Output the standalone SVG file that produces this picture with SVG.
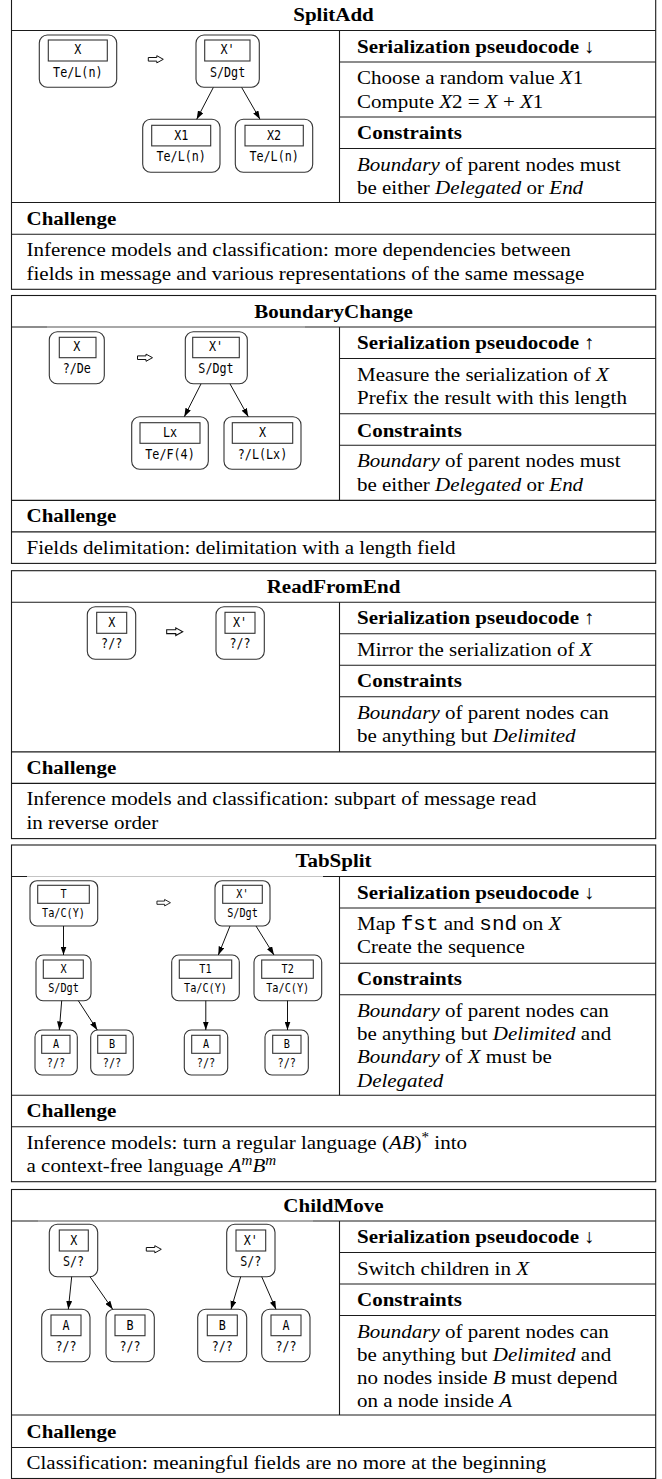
<svg xmlns="http://www.w3.org/2000/svg" xmlns:xlink="http://www.w3.org/1999/xlink" width="662" height="1479" viewBox="0 0 662 1479">
<defs>
<style>
.ln{stroke:#1a1a1a;stroke-width:1.1;fill:none}
.lt{stroke:#c4c4c4;stroke-width:1.2}
.s{font-family:"Liberation Serif","Times New Roman",serif;font-size:19.5px;fill:#000}
.b{font-weight:bold}
.c{text-anchor:middle}
.i{font-style:italic}
.tt{font-family:"Liberation Mono","Courier New",monospace}
.no{fill:#fff;stroke:#333;stroke-width:1.1}
.nb{fill:none;stroke:#333;stroke-width:1.1}
.m{font-family:"DejaVu Sans Mono",monospace;font-size:13.8px;fill:#000;text-anchor:middle}
.m2{font-size:12px}
.e{stroke:#111;stroke-width:1;fill:none;marker-end:url(#ah)}
.imp{fill:none;stroke:#111;stroke-width:1}
</style>
<marker id="ah" viewBox="0 0 10 7" refX="10" refY="3.5" markerWidth="8.5" markerHeight="6" markerUnits="userSpaceOnUse" orient="auto"><path d="M0,0 L10,3.5 L0,7 z" fill="#000"/></marker>
<polygon id="imp" class="imp" points="-7.5,-1.8 1,-1.8 1,-3.6 7.5,0 1,3.6 1,1.8 -7.5,1.8"/>
</defs>
<rect width="662" height="1479" fill="#fff"/>

<!-- ============ SplitAdd ============ -->
<g id="splitadd">
<g id="splitadd-frame">
<rect class="ln" x="11.5" y="-1" width="644.2" height="290.3"/>
<line class="ln" x1="11.5" y1="30.5" x2="655.7" y2="30.5"/>
<line class="ln" x1="339.5" y1="62" x2="655.7" y2="62"/>
<line class="ln" x1="339.5" y1="117" x2="655.7" y2="117"/>
<line class="ln" x1="339.5" y1="148.5" x2="655.7" y2="148.5"/>
<line class="ln" x1="11.5" y1="202.5" x2="655.7" y2="202.5"/>
<line class="ln" x1="11.5" y1="234.3" x2="655.7" y2="234.3"/>
<line class="ln" x1="339.5" y1="30.5" x2="339.5" y2="202.5"/>
</g>
<text class="s b c" transform="translate(333.5,21) scale(1.077,1)">SplitAdd</text>
<text class="s b" transform="translate(357,52.5) scale(1.077,1)">Serialization pseudocode ↓</text>
<text class="s" transform="translate(357,84) scale(1.077,1)">Choose a random value <tspan class="i">X</tspan>1</text>
<text class="s" transform="translate(357,107.5) scale(1.077,1)">Compute <tspan class="i">X</tspan>2 = <tspan class="i">X</tspan> + <tspan class="i">X</tspan>1</text>
<text class="s b" transform="translate(357,139) scale(1.077,1)">Constraints</text>
<text class="s" transform="translate(357,170.5) scale(1.077,1)"><tspan class="i">Boundary</tspan> of parent nodes must</text>
<text class="s" transform="translate(357,194) scale(1.077,1)">be either <tspan class="i">Delegated</tspan> or <tspan class="i">End</tspan></text>
<text class="s b" transform="translate(26.5,224.8) scale(1.077,1)">Challenge</text>
<text class="s" transform="translate(26.5,256.3) scale(1.077,1)">Inference models and classification: more dependencies between</text>
<text class="s" transform="translate(26.5,279.7) scale(1.077,1)">fields in message and various representations of the same message</text>
<use xlink:href="#imp" transform="translate(155.8,59.3)"/>
<g id="splitadd-x"><rect class="no" x="39.3" y="35" width="77.4" height="52.3" rx="8"/><rect class="nb" x="48.3" y="40" width="59" height="21"/><text class="m" transform="translate(77.8,54) scale(0.85,1)">X</text><text class="m" transform="translate(77.8,76.5) scale(0.85,1)">Te/L(n)</text></g>
<g id="splitadd-x-prime"><rect class="no" x="196" y="35" width="63.3" height="52.3" rx="8"/><rect class="nb" x="204.7" y="40" width="45.3" height="21"/><text class="m" transform="translate(227.6,54) scale(0.85,1)">X'</text><text class="m" transform="translate(227.6,76.5) scale(0.85,1)">S/Dgt</text></g>
<g id="splitadd-x1"><rect class="no" x="142.7" y="119.3" width="77.3" height="53" rx="8"/><rect class="nb" x="151.7" y="125.3" width="59" height="20.6"/><text class="m" transform="translate(181.2,139.5) scale(0.85,1)">X1</text><text class="m" transform="translate(181.2,161.3) scale(0.85,1)">Te/L(n)</text></g>
<g id="splitadd-x2"><rect class="no" x="235.3" y="119.3" width="77.4" height="53" rx="8"/><rect class="nb" x="245" y="125.3" width="58.3" height="20.6"/><text class="m" transform="translate(274.1,139.5) scale(0.85,1)">X2</text><text class="m" transform="translate(274.1,161.3) scale(0.85,1)">Te/L(n)</text></g>
<g id="splitadd-edges">
<line class="e" x1="213.3" y1="87.5" x2="196.7" y2="119.3"/>
<line class="e" x1="241.7" y1="87.5" x2="260" y2="119.3"/>
</g>
</g>

<!-- ============ BoundaryChange ============ -->
<g id="boundarychange">
<g id="boundarychange-frame">
<rect class="ln" x="11.5" y="295.5" width="644.2" height="267.9"/>
<line class="ln" x1="11.5" y1="327" x2="655.7" y2="327"/>
<line class="lt" x1="47" y1="327" x2="305" y2="327"/>
<line class="ln" x1="339.5" y1="358.5" x2="655.7" y2="358.5"/>
<line class="ln" x1="339.5" y1="413.7" x2="655.7" y2="413.7"/>
<line class="ln" x1="339.5" y1="445.2" x2="655.7" y2="445.2"/>
<line class="ln" x1="11.5" y1="500.4" x2="655.7" y2="500.4"/>
<line class="ln" x1="11.5" y1="531.9" x2="655.7" y2="531.9"/>
<line class="ln" x1="339.5" y1="327" x2="339.5" y2="500.4"/>
</g>
<text class="s b c" transform="translate(333.5,317.5) scale(1.077,1)">BoundaryChange</text>
<text class="s b" transform="translate(357,349) scale(1.077,1)">Serialization pseudocode ↑</text>
<text class="s" transform="translate(357,380.5) scale(1.077,1)">Measure the serialization of <tspan class="i">X</tspan></text>
<text class="s" transform="translate(357,404) scale(1.077,1)">Prefix the result with this length</text>
<text class="s b" transform="translate(357,436.7) scale(1.077,1)">Constraints</text>
<text class="s" transform="translate(357,467.2) scale(1.077,1)"><tspan class="i">Boundary</tspan> of parent nodes must</text>
<text class="s" transform="translate(357,490.6) scale(1.077,1)">be either <tspan class="i">Delegated</tspan> or <tspan class="i">End</tspan></text>
<text class="s b" transform="translate(26.5,522.4) scale(1.077,1)">Challenge</text>
<text class="s" transform="translate(26.5,553.9) scale(1.077,1)">Fields delimitation: delimitation with a length field</text>
<use xlink:href="#imp" transform="translate(145,357.7)"/>
<g id="boundarychange-x"><rect class="no" x="49.3" y="331.7" width="55" height="52" rx="8"/><rect class="nb" x="59.3" y="337.3" width="36.7" height="20.4"/><text class="m" transform="translate(76.8,351.2) scale(0.85,1)">X</text><text class="m" transform="translate(76.8,373) scale(0.85,1)">?/De</text></g>
<g id="boundarychange-x-prime"><rect class="no" x="185.3" y="331.7" width="62" height="52" rx="8"/><rect class="nb" x="192.7" y="337.3" width="46.6" height="20.4"/><text class="m" transform="translate(216,351.2) scale(0.85,1)">X'</text><text class="m" transform="translate(216,373) scale(0.85,1)">S/Dgt</text></g>
<g id="boundarychange-lx"><rect class="no" x="131.7" y="416.7" width="76.6" height="52.6" rx="8"/><rect class="nb" x="140" y="422.7" width="60" height="20.6"/><text class="m" transform="translate(170,436.7) scale(0.85,1)">Lx</text><text class="m" transform="translate(170,458.6) scale(0.85,1)">Te/F(4)</text></g>
<g id="boundarychange-x-child"><rect class="no" x="224" y="416.7" width="77" height="52.6" rx="8"/><rect class="nb" x="232.3" y="422.7" width="60.4" height="20.6"/><text class="m" transform="translate(262.5,436.7) scale(0.85,1)">X</text><text class="m" transform="translate(262.5,458.6) scale(0.85,1)">?/L(Lx)</text></g>
<g id="boundarychange-edges">
<line class="e" x1="201" y1="383.9" x2="184.3" y2="416.7"/>
<line class="e" x1="230" y1="383.9" x2="248.3" y2="416.7"/>
</g>
</g>

<!-- ============ ReadFromEnd ============ -->
<g id="readfromend">
<g id="readfromend-frame">
<rect class="ln" x="11.5" y="570.7" width="644.2" height="267.9"/>
<line class="ln" x1="11.5" y1="602.2" x2="655.7" y2="602.2"/>
<line class="ln" x1="339.5" y1="633.7" x2="655.7" y2="633.7"/>
<line class="ln" x1="339.5" y1="665.2" x2="655.7" y2="665.2"/>
<line class="ln" x1="339.5" y1="696.7" x2="655.7" y2="696.7"/>
<line class="ln" x1="11.5" y1="751.9" x2="655.7" y2="751.9"/>
<line class="ln" x1="11.5" y1="783.4" x2="655.7" y2="783.4"/>
<line class="ln" x1="339.5" y1="602.2" x2="339.5" y2="751.9"/>
</g>
<text class="s b c" transform="translate(333.5,592.7) scale(1.077,1)">ReadFromEnd</text>
<text class="s b" transform="translate(357,624.2) scale(1.077,1)">Serialization pseudocode ↑</text>
<text class="s" transform="translate(357,655.7) scale(1.077,1)">Mirror the serialization of <tspan class="i">X</tspan></text>
<text class="s b" transform="translate(357,687.2) scale(1.077,1)">Constraints</text>
<text class="s" transform="translate(357,718.7) scale(1.077,1)"><tspan class="i">Boundary</tspan> of parent nodes can</text>
<text class="s" transform="translate(357,742.1) scale(1.077,1)">be anything but <tspan class="i">Delimited</tspan></text>
<text class="s b" transform="translate(26.5,773.9) scale(1.077,1)">Challenge</text>
<text class="s" transform="translate(26.5,805.4) scale(1.077,1)">Inference models and classification: subpart of message read</text>
<text class="s" transform="translate(26.5,828.8) scale(1.077,1)">in reverse order</text>
<use xlink:href="#imp" transform="translate(174.7,631.7) scale(1.07)"/>
<g id="readfromend-x"><rect class="no" x="87.3" y="606.7" width="48.4" height="52.6" rx="8"/><rect class="nb" x="96.7" y="612.3" width="30" height="21"/><text class="m" transform="translate(111.7,627) scale(0.85,1)">X</text><text class="m" transform="translate(111.7,648) scale(0.85,1)">?/?</text></g>
<g id="readfromend-x-prime"><rect class="no" x="216" y="606.7" width="48.3" height="52.6" rx="8"/><rect class="nb" x="225" y="612.3" width="30" height="21"/><text class="m" transform="translate(240,627) scale(0.85,1)">X'</text><text class="m" transform="translate(240,648) scale(0.85,1)">?/?</text></g>
<g id="readfromend-edges"></g>
</g>

<!-- ============ TabSplit ============ -->
<g id="tabsplit">
<g id="tabsplit-frame">
<rect class="ln" x="11.5" y="845" width="644.2" height="336.7"/>
<line class="ln" x1="11.5" y1="876.5" x2="655.7" y2="876.5"/>
<line class="lt" x1="27" y1="876.5" x2="323" y2="876.5"/>
<line class="ln" x1="339.5" y1="908" x2="655.7" y2="908"/>
<line class="ln" x1="339.5" y1="963.2" x2="655.7" y2="963.2"/>
<line class="ln" x1="339.5" y1="994.7" x2="655.7" y2="994.7"/>
<line class="ln" x1="11.5" y1="1095.2" x2="655.7" y2="1095.2"/>
<line class="ln" x1="11.5" y1="1126.7" x2="655.7" y2="1126.7"/>
<line class="ln" x1="339.5" y1="876.5" x2="339.5" y2="1095.2"/>
</g>
<text class="s b c" transform="translate(333.5,867) scale(1.077,1)">TabSplit</text>
<text class="s b" transform="translate(357,898.5) scale(1.077,1)">Serialization pseudocode ↓</text>
<text class="s" transform="translate(357,930) scale(1.077,1)">Map <tspan class="tt">fst</tspan> and <tspan class="tt">snd</tspan> on <tspan class="i">X</tspan></text>
<text class="s" transform="translate(357,953.4) scale(1.077,1)">Create the sequence</text>
<text class="s b" transform="translate(357,985.2) scale(1.077,1)">Constraints</text>
<text class="s" transform="translate(357,1016.7) scale(1.077,1)"><tspan class="i">Boundary</tspan> of parent nodes can</text>
<text class="s" transform="translate(357,1040) scale(1.077,1)">be anything but <tspan class="i">Delimited</tspan> and</text>
<text class="s" transform="translate(357,1063.3) scale(1.077,1)"><tspan class="i">Boundary</tspan> of <tspan class="i">X</tspan> must be</text>
<text class="s" transform="translate(357,1086.6) scale(1.077,1)"><tspan class="i">Delegated</tspan></text>
<text class="s b" transform="translate(26.5,1117.2) scale(1.077,1)">Challenge</text>
<text class="s" transform="translate(26.5,1148.7) scale(1.077,1)">Inference models: turn a regular language (<tspan class="i">AB</tspan>)<tspan dy="-7" style="font-size:14px">*</tspan><tspan dy="7"> into</tspan></text>
<text class="s" transform="translate(26.5,1172.1) scale(1.077,1)">a context-free language <tspan class="i">A</tspan><tspan class="i" dy="-7" style="font-size:14px">m</tspan><tspan class="i" dy="7">B</tspan><tspan class="i" dy="-7" style="font-size:14px">m</tspan></text>
<use xlink:href="#imp" transform="translate(163.7,902.7) scale(0.9)"/>
<g id="tabsplit-t"><rect class="no" x="30" y="880.7" width="67.7" height="45.3" rx="7"/><rect class="nb" x="37.7" y="885.3" width="51.6" height="18"/><text class="m m2" transform="translate(63.5,897.8) scale(0.85,1)">T</text><text class="m m2" transform="translate(63.5,917.2) scale(0.85,1)">Ta/C(Y)</text></g>
<g id="tabsplit-x-prime"><rect class="no" x="215" y="880.7" width="55" height="45.3" rx="7"/><rect class="nb" x="222.7" y="885.3" width="39.6" height="18"/><text class="m m2" transform="translate(242.5,897.8) scale(0.85,1)">X'</text><text class="m m2" transform="translate(242.5,917.2) scale(0.85,1)">S/Dgt</text></g>
<g id="tabsplit-x"><rect class="no" x="36" y="955" width="55" height="45.7" rx="7"/><rect class="nb" x="43.3" y="960" width="40" height="18.3"/><text class="m m2" transform="translate(63.5,972.5) scale(0.85,1)">X</text><text class="m m2" transform="translate(63.5,991.7) scale(0.85,1)">S/Dgt</text></g>
<g id="tabsplit-t1"><rect class="no" x="171.7" y="955" width="67.6" height="45.7" rx="7"/><rect class="nb" x="179.3" y="960" width="52.4" height="18.3"/><text class="m m2" transform="translate(205.5,972.5) scale(0.85,1)">T1</text><text class="m m2" transform="translate(205.5,991.7) scale(0.85,1)">Ta/C(Y)</text></g>
<g id="tabsplit-t2"><rect class="no" x="254" y="955" width="67.7" height="45.7" rx="7"/><rect class="nb" x="261.7" y="960" width="51.6" height="18.3"/><text class="m m2" transform="translate(287.7,972.5) scale(0.85,1)">T2</text><text class="m m2" transform="translate(287.7,991.7) scale(0.85,1)">Ta/C(Y)</text></g>
<g id="tabsplit-a"><rect class="no" x="35" y="1030" width="42.3" height="45" rx="7"/><rect class="nb" x="41.7" y="1035.3" width="28.3" height="18"/><text class="m m2" transform="translate(56,1047.7) scale(0.85,1)">A</text><text class="m m2" transform="translate(56,1066.8) scale(0.85,1)">?/?</text></g>
<g id="tabsplit-b"><rect class="no" x="90.7" y="1030" width="42.6" height="45" rx="7"/><rect class="nb" x="97.7" y="1035.3" width="28.3" height="18"/><text class="m m2" transform="translate(112,1047.7) scale(0.85,1)">B</text><text class="m m2" transform="translate(112,1066.8) scale(0.85,1)">?/?</text></g>
<g id="tabsplit-a2"><rect class="no" x="184.3" y="1030" width="43.4" height="45" rx="7"/><rect class="nb" x="191.7" y="1035.3" width="28.3" height="18"/><text class="m m2" transform="translate(206,1047.7) scale(0.85,1)">A</text><text class="m m2" transform="translate(206,1066.8) scale(0.85,1)">?/?</text></g>
<g id="tabsplit-b2"><rect class="no" x="265" y="1030" width="43.3" height="45" rx="7"/><rect class="nb" x="272.7" y="1035.3" width="28.3" height="18"/><text class="m m2" transform="translate(286.8,1047.7) scale(0.85,1)">B</text><text class="m m2" transform="translate(286.8,1066.8) scale(0.85,1)">?/?</text></g>
<g id="tabsplit-edges">
<line class="e" x1="63.5" y1="926" x2="63.5" y2="955"/>
<line class="e" x1="230" y1="926" x2="218.3" y2="955"/>
<line class="e" x1="256" y1="926" x2="274" y2="955"/>
<line class="e" x1="61.7" y1="1000.7" x2="59.3" y2="1030"/>
<line class="e" x1="78.3" y1="1000.7" x2="97.3" y2="1030"/>
<line class="e" x1="205.8" y1="1000.7" x2="205.8" y2="1030"/>
<line class="e" x1="287.5" y1="1000.7" x2="287.5" y2="1030"/>
</g>
</g>

<!-- ============ ChildMove ============ -->
<g id="childmove">
<g id="childmove-frame">
<rect class="ln" x="11.5" y="1189.5" width="644.2" height="289"/>
<line class="ln" x1="11.5" y1="1221" x2="655.7" y2="1221"/>
<line class="lt" x1="38" y1="1221" x2="313" y2="1221"/>
<line class="ln" x1="339.5" y1="1252.5" x2="655.7" y2="1252.5"/>
<line class="ln" x1="339.5" y1="1284" x2="655.7" y2="1284"/>
<line class="ln" x1="339.5" y1="1315.5" x2="655.7" y2="1315.5"/>
<line class="ln" x1="11.5" y1="1415" x2="655.7" y2="1415"/>
<line class="ln" x1="11.5" y1="1447.5" x2="655.7" y2="1447.5"/>
<line class="ln" x1="339.5" y1="1221" x2="339.5" y2="1415"/>
</g>
<text class="s b c" transform="translate(333.5,1211.5) scale(1.077,1)">ChildMove</text>
<text class="s b" transform="translate(357,1243) scale(1.077,1)">Serialization pseudocode ↓</text>
<text class="s" transform="translate(357,1274.5) scale(1.077,1)">Switch children in <tspan class="i">X</tspan></text>
<text class="s b" transform="translate(357,1306) scale(1.077,1)">Constraints</text>
<text class="s" transform="translate(357,1337.5) scale(1.077,1)"><tspan class="i">Boundary</tspan> of parent nodes can</text>
<text class="s" transform="translate(357,1360.8) scale(1.077,1)">be anything but <tspan class="i">Delimited</tspan> and</text>
<text class="s" transform="translate(357,1384.1) scale(1.077,1)">no nodes inside <tspan class="i">B</tspan> must depend</text>
<text class="s" transform="translate(357,1407.4) scale(1.077,1)">on a node inside <tspan class="i">A</tspan></text>
<text class="s b" transform="translate(26.5,1437.8) scale(1.077,1)">Challenge</text>
<text class="s" transform="translate(26.5,1469.3) scale(1.077,1)">Classification: meaningful fields are no more at the beginning</text>
<use xlink:href="#imp" transform="translate(153.8,1249.3)"/>
<g id="childmove-x"><rect class="no" x="49.3" y="1224.3" width="48.4" height="52.4" rx="8"/><rect class="nb" x="59.3" y="1230" width="29" height="21"/><text class="m" transform="translate(73.8,1244.5) scale(0.85,1)">X</text><text class="m" transform="translate(73.5,1265.6) scale(0.85,1)">S/?</text></g>
<g id="childmove-x-prime"><rect class="no" x="226.7" y="1224.3" width="48.3" height="52.4" rx="8"/><rect class="nb" x="236" y="1230" width="29.7" height="21"/><text class="m" transform="translate(250.8,1244.5) scale(0.85,1)">X'</text><text class="m" transform="translate(250.8,1265.6) scale(0.85,1)">S/?</text></g>
<g id="childmove-a"><rect class="no" x="41.7" y="1309.3" width="48.3" height="52.4" rx="8"/><rect class="nb" x="51" y="1315" width="30" height="20.7"/><text class="m" transform="translate(66,1329.5) scale(0.85,1)">A</text><text class="m" transform="translate(66,1350.6) scale(0.85,1)">?/?</text></g>
<g id="childmove-b"><rect class="no" x="106" y="1309.3" width="48.3" height="52.4" rx="8"/><rect class="nb" x="115" y="1315" width="30" height="20.7"/><text class="m" transform="translate(130,1329.5) scale(0.85,1)">B</text><text class="m" transform="translate(130,1350.6) scale(0.85,1)">?/?</text></g>
<g id="childmove-b-prime"><rect class="no" x="197.7" y="1309.3" width="49" height="52.4" rx="8"/><rect class="nb" x="207.3" y="1315" width="30" height="20.7"/><text class="m" transform="translate(222.3,1329.5) scale(0.85,1)">B</text><text class="m" transform="translate(222.3,1350.6) scale(0.85,1)">?/?</text></g>
<g id="childmove-a-prime"><rect class="no" x="261.7" y="1309.3" width="48.3" height="52.4" rx="8"/><rect class="nb" x="271" y="1315" width="30" height="20.7"/><text class="m" transform="translate(286,1329.5) scale(0.85,1)">A</text><text class="m" transform="translate(286,1350.6) scale(0.85,1)">?/?</text></g>
<g id="childmove-edges">
<line class="e" x1="71.7" y1="1276.7" x2="68.3" y2="1309.3"/>
<line class="e" x1="90" y1="1276.7" x2="112.7" y2="1309.3"/>
<line class="e" x1="240.7" y1="1276.7" x2="231" y2="1309.3"/>
<line class="e" x1="261.7" y1="1276.7" x2="276" y2="1309.3"/>
</g>
</g>
</svg>
